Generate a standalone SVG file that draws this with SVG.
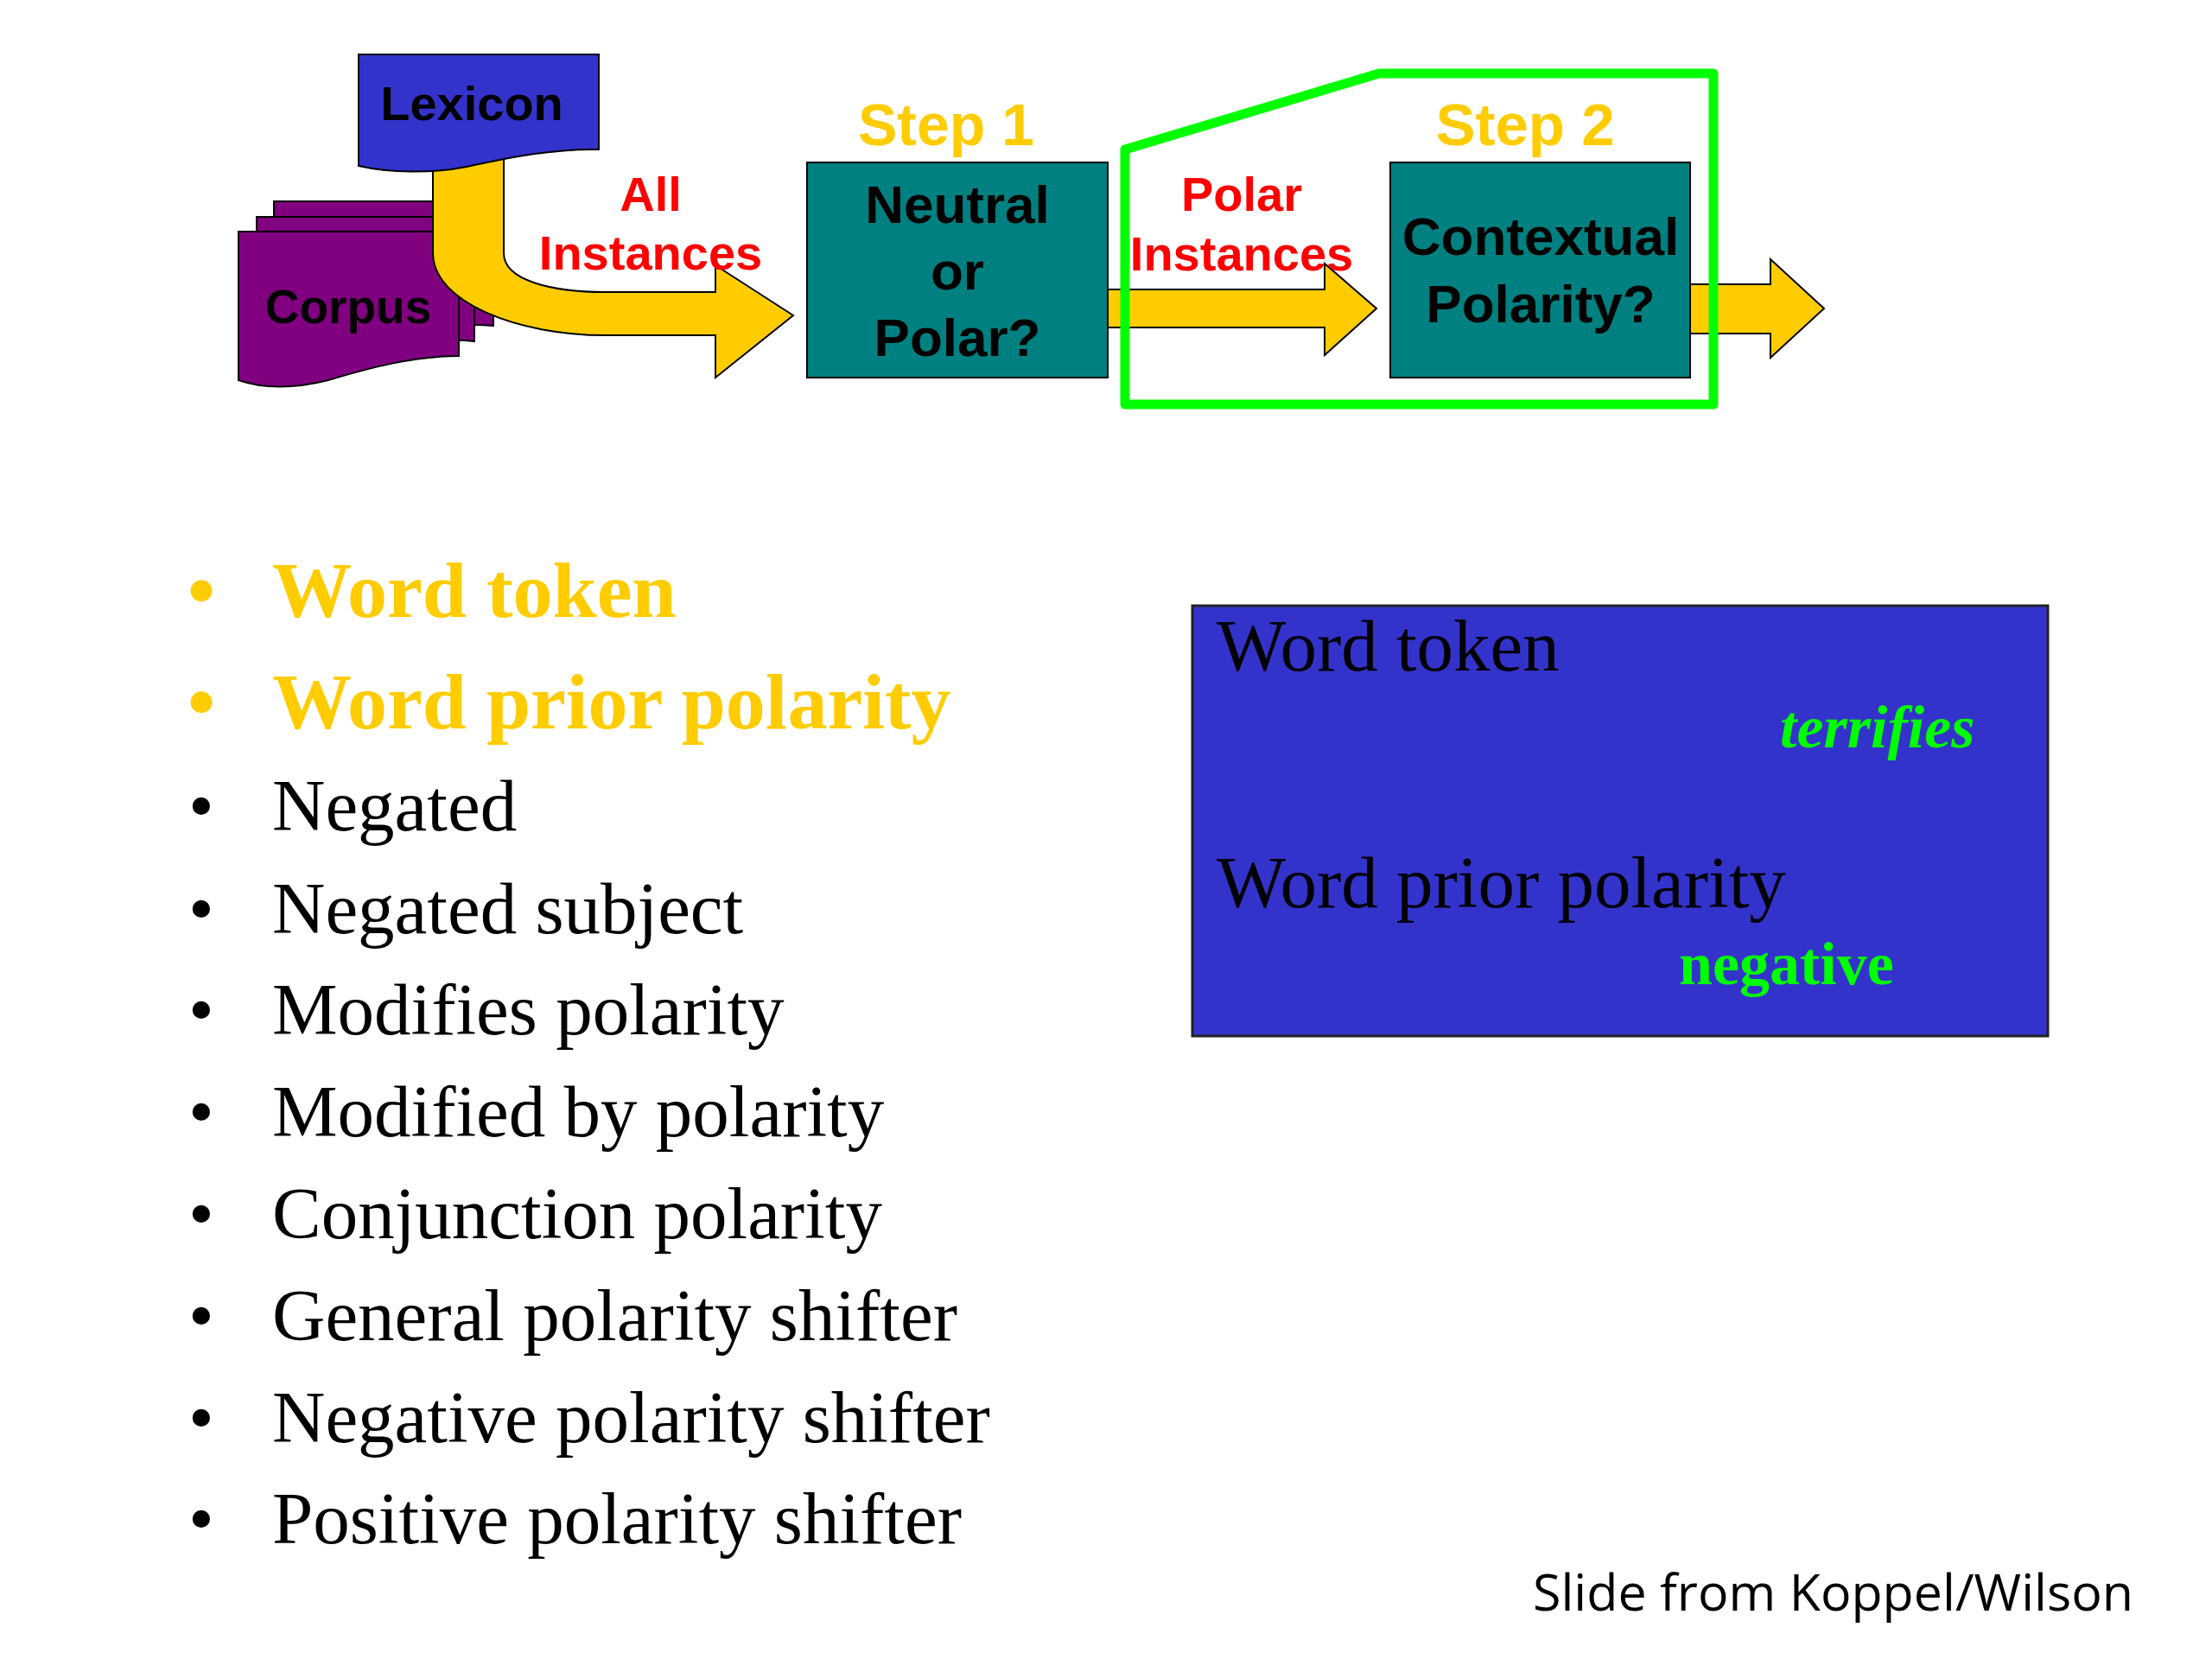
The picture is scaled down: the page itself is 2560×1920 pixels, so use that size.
<svg xmlns="http://www.w3.org/2000/svg" width="2560" height="1920" viewBox="0 0 2560 1920">
<style>
.sans{font-family:"Liberation Sans",Arial,sans-serif;font-weight:bold}
.serif{font-family:"Liberation Serif","Times New Roman",serif}
.shape{stroke:#000;stroke-width:2}
.red{fill:#FF0000}
.gold{fill:#FFCC00}
.arrow{fill:#FFCC00;stroke:#000;stroke-width:2;stroke-linejoin:miter}
.item{font-size:85px;fill:#000}
.bold{font-size:92px;font-weight:bold;fill:#FFCC00}
</style>
<rect width="2560" height="1920" fill="#fff"/>

<g id="node-corpus">
  <path class="shape" fill="#800080" d="M317,233 H571 V377 C520,372 470,385 430,398 L317,398 Z"/>
  <path class="shape" fill="#800080" d="M297,251 H549 V395 C500,390 450,402 410,415 L297,415 Z"/>
  <path class="shape" fill="#800080" d="M276,268 H531 V412 C480,412 430,425 380,440 C340,450 305,450 276,440 Z"/>
  <text class="sans" x="403" y="374" font-size="55" text-anchor="middle" fill="#000">Corpus</text>
</g>

<g id="connectors">
  <path id="arrow-all" class="arrow" d="M501,180 V293 C501,350 600,388 700,388 H828 V437 L918,365 L828,307 V338 H700 C640,338 583,325 583,293 V180 Z"/>
  <path id="arrow-polar" class="arrow" d="M1282,335 H1533 V305 L1593,357 L1533,411 V379 H1282 Z"/>
  <path id="arrow-out" class="arrow" d="M1956,329 H2049 V300 L2111,357 L2049,414 V386 H1956 Z"/>
</g>

<g id="node-lexicon">
  <path class="shape" fill="#3333CC" d="M415,63 H693 V173 C640,172 590,182 540,193 C500,201 450,200 415,192 Z"/>
  <text class="sans" x="546" y="139" font-size="56" text-anchor="middle" fill="#000">Lexicon</text>
</g>

<g id="label-all">
  <text class="sans red" x="753" y="244" font-size="56" text-anchor="middle">All</text>
  <text class="sans red" x="753" y="312" font-size="56" text-anchor="middle">Instances</text>
</g>

<g id="node-step1">
  <text class="sans gold" x="1095" y="168" font-size="68" text-anchor="middle">Step 1</text>
  <rect class="shape" x="934" y="188" width="348" height="249" fill="#008080"/>
  <text class="sans" x="1108" y="258" font-size="62" text-anchor="middle" fill="#000">Neutral</text>
  <text class="sans" x="1108" y="335" font-size="62" text-anchor="middle" fill="#000">or</text>
  <text class="sans" x="1108" y="412" font-size="62" text-anchor="middle" fill="#000">Polar?</text>
</g>

<g id="label-polar">
  <text class="sans red" x="1437" y="244" font-size="56" text-anchor="middle">Polar</text>
  <text class="sans red" x="1437" y="313" font-size="56" text-anchor="middle">Instances</text>
</g>

<g id="node-step2">
  <text class="sans gold" x="1765" y="168" font-size="69" text-anchor="middle">Step 2</text>
  <rect class="shape" x="1609" y="188" width="347" height="249" fill="#008080"/>
  <text class="sans" x="1783" y="295" font-size="62" text-anchor="middle" fill="#000">Contextual</text>
  <text class="sans" x="1783" y="373" font-size="62" text-anchor="middle" fill="#000">Polarity?</text>
</g>

<g id="step2-boundary">
  <polygon points="1302,173 1596,85 1983,85 1983,468 1302,468" fill="none" stroke="#00FF00" stroke-width="11" stroke-linejoin="round"/>
</g>

<g id="feature-list" class="serif">
  <text class="bold" x="233" y="714" text-anchor="middle">•</text>
  <text class="bold" x="315" y="714">Word token</text>
  <text class="bold" x="233" y="843" text-anchor="middle">•</text>
  <text class="bold" x="315" y="843">Word prior polarity</text>
  <text class="item" x="233" y="961" text-anchor="middle">•</text>
  <text class="item" x="315" y="961">Negated</text>
  <text class="item" x="233" y="1080" text-anchor="middle">•</text>
  <text class="item" x="315" y="1080">Negated subject</text>
  <text class="item" x="233" y="1197" text-anchor="middle">•</text>
  <text class="item" x="315" y="1197">Modifies polarity</text>
  <text class="item" x="233" y="1315" text-anchor="middle">•</text>
  <text class="item" x="315" y="1315">Modified by polarity</text>
  <text class="item" x="233" y="1433" text-anchor="middle">•</text>
  <text class="item" x="315" y="1433">Conjunction polarity</text>
  <text class="item" x="233" y="1551" text-anchor="middle">•</text>
  <text class="item" x="315" y="1551">General polarity shifter</text>
  <text class="item" x="233" y="1669" text-anchor="middle">•</text>
  <text class="item" x="315" y="1669">Negative polarity shifter</text>
  <text class="item" x="233" y="1786" text-anchor="middle">•</text>
  <text class="item" x="315" y="1786">Positive polarity shifter</text>
</g>

<g id="node-example">
  <rect x="1380" y="701" width="990" height="498" fill="#3333CC" stroke="#222" stroke-width="3"/>
  <text class="serif" x="1408" y="776" font-size="85" fill="#000">Word token</text>
  <text class="serif" x="2060" y="865" font-size="70" font-weight="bold" font-style="italic" fill="#00FF00">terrifies</text>
  <text class="serif" x="1408" y="1050" font-size="85" fill="#000">Word prior polarity</text>
  <text class="serif" x="1943" y="1139" font-size="70" font-weight="bold" fill="#00FF00">negative</text>
</g>

<g id="footer">
  <text x="1774" y="1864" font-family="'Open Sans','Liberation Sans',sans-serif" font-size="58" fill="#000" textLength="695" lengthAdjust="spacingAndGlyphs">Slide from Koppel/Wilson</text>
</g>
</svg>
